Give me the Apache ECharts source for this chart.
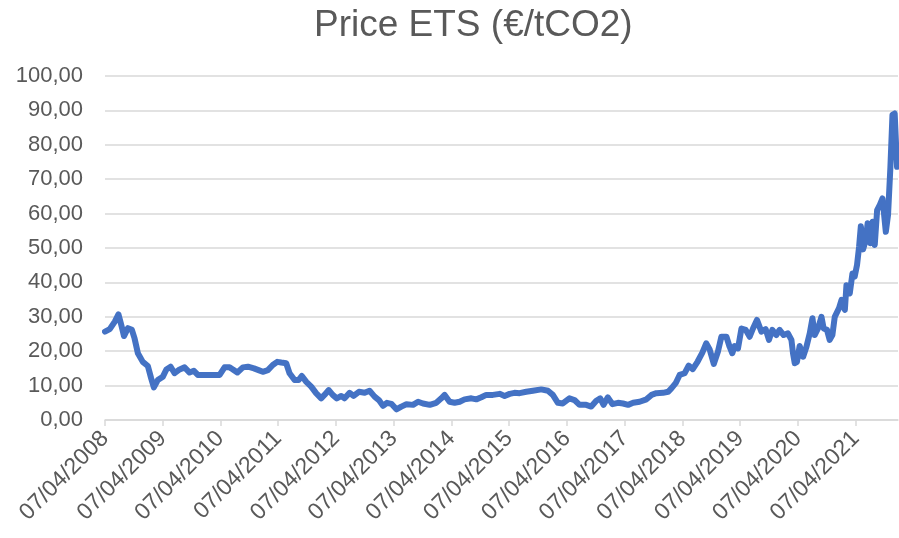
<!DOCTYPE html>
<html>
<head>
<meta charset="utf-8">
<script src="https://cdn.jsdelivr.net/npm/echarts@6/dist/echarts.min.js"></script>
<style>
  html, body { margin: 0; padding: 0; background: #fff; }
  #chart { width: 899px; height: 538px; }
</style>
</head>
<body>
<div id="chart"></div>
<script>
// EUA price
const dates = [
  '2008-04-07', '2008-05-07', '2008-06-08', '2008-07-01', '2008-07-19', '2008-08-05', '2008-08-30', '2008-09-24',
  '2008-10-11', '2008-11-01', '2008-12-02', '2009-01-03', '2009-01-24', '2009-02-10', '2009-03-07', '2009-04-08',
  '2009-04-30', '2009-05-27', '2009-06-21', '2009-07-23', '2009-08-23', '2009-09-24', '2009-10-21', '2009-11-15',
  '2010-01-18', '2010-04-02', '2010-05-03', '2010-06-04', '2010-06-25', '2010-07-23', '2010-08-27', '2010-09-28',
  '2010-11-05', '2010-12-04', '2010-12-31', '2011-02-01', '2011-03-04', '2011-04-01', '2011-04-27', '2011-05-28',
  '2011-06-18', '2011-07-20', '2011-08-14', '2011-09-04', '2011-10-02', '2011-11-02', '2011-12-03', '2012-01-04',
  '2012-01-25', '2012-02-21', '2012-03-17', '2012-04-12', '2012-05-10', '2012-05-31', '2012-07-02', '2012-07-27',
  '2012-08-30', '2012-10-05', '2012-11-05', '2012-12-07', '2013-01-03', '2013-01-29', '2013-02-23', '2013-03-23',
  '2013-04-24', '2013-05-25', '2013-06-26', '2013-08-07', '2013-09-08', '2013-10-09', '2013-11-21', '2014-01-01',
  '2014-02-02', '2014-02-23', '2014-03-26', '2014-04-27', '2014-05-29', '2014-06-29', '2014-08-11', '2014-09-11',
  '2014-10-13', '2014-11-13', '2014-12-25', '2015-02-06', '2015-03-09', '2015-04-10', '2015-05-11', '2015-06-12',
  '2015-07-24', '2015-09-04', '2015-10-27', '2015-12-08', '2016-01-08', '2016-02-09', '2016-03-11', '2016-04-22',
  '2016-05-24', '2016-06-25', '2016-08-06', '2016-09-07', '2016-10-09', '2016-11-03', '2016-11-24', '2016-12-21',
  '2017-01-19', '2017-02-23', '2017-03-27', '2017-04-28', '2017-05-30', '2017-07-10', '2017-08-22', '2017-09-23',
  '2017-10-24', '2017-12-05', '2018-01-06', '2018-01-27', '2018-02-23', '2018-03-20', '2018-04-21', '2018-05-16',
  '2018-06-11', '2018-07-12', '2018-08-10', '2018-09-04', '2018-09-26', '2018-10-22', '2018-11-18', '2018-12-09',
  '2019-01-10', '2019-01-30', '2019-02-16', '2019-03-03', '2019-03-24', '2019-04-15', '2019-05-12', '2019-06-06',
  '2019-06-27', '2019-07-22', '2019-08-19', '2019-09-15', '2019-10-06', '2019-10-27', '2019-11-21', '2019-12-12',
  '2020-01-07', '2020-02-03', '2020-02-25', '2020-03-06', '2020-03-17', '2020-03-31', '2020-04-17', '2020-05-09',
  '2020-05-30', '2020-06-20', '2020-07-07', '2020-07-21', '2020-08-11', '2020-09-02', '2020-09-16', '2020-10-07',
  '2020-10-24', '2020-11-10', '2020-11-25', '2020-12-22', '2021-01-07', '2021-01-28', '2021-02-07', '2021-02-28',
  '2021-03-17', '2021-03-31', '2021-04-15', '2021-04-28', '2021-05-09', '2021-05-23', '2021-06-09', '2021-06-21',
  '2021-07-08', '2021-07-23', '2021-08-05', '2021-08-20', '2021-09-06', '2021-09-23', '2021-10-14', '2021-10-28',
  '2021-11-12', '2021-11-25', '2021-12-09', '2021-12-24', '2021-12-30'
]
const prices = [
  25.7, 26.4, 28.6, 30.7, 27.6, 24.4, 26.7, 26.2,
  23.7, 19.4, 16.9, 15.7, 12.1, 9.5, 11.6, 12.6,
  14.7, 15.5, 13.6, 14.7, 15.3, 13.8, 14.3, 13.1,
  13.1, 13.1, 15.3, 15.3, 14.7, 13.8, 15.3, 15.5,
  15.0, 14.5, 14.0, 14.5, 16.0, 16.9, 16.7, 16.5,
  13.6, 11.6, 11.6, 12.8, 11.1, 9.7, 7.8, 6.3,
  7.3, 8.7, 7.3, 6.3, 7.0, 6.3, 7.9, 7.0,
  8.2, 7.9, 8.5, 6.8, 5.8, 4.1, 5.0, 4.7,
  3.1, 3.9, 4.6, 4.4, 5.3, 4.8, 4.4, 5.0,
  6.3, 7.3, 5.3, 5.0, 5.3, 6.0, 6.3, 6.0,
  6.6, 7.3, 7.3, 7.6, 7.0, 7.6, 7.9, 7.8,
  8.2, 8.5, 8.9, 8.5, 7.3, 5.0, 4.8, 6.3,
  5.8, 4.4, 4.4, 3.9, 5.6, 6.3, 4.4, 6.6,
  4.6, 5.0, 4.8, 4.4, 5.0, 5.3, 6.0, 7.3,
  7.8, 7.9, 8.2, 9.2, 10.7, 13.1, 13.6, 15.8,
  14.8, 17.0, 19.5, 22.3, 20.5, 16.3, 20.0, 24.2,
  24.2, 21.3, 19.4, 21.5, 20.8, 26.6, 26.2, 24.2,
  26.6, 29.1, 25.7, 26.4, 23.3, 26.2, 24.7, 26.2,
  24.7, 25.2, 23.3, 19.4, 16.5, 16.9, 21.5, 18.4,
  21.3, 25.2, 29.6, 24.7, 26.6, 30.0, 26.6, 26.2,
  23.3, 24.7, 30.0, 32.5, 34.9, 32.0, 39.2, 36.8,
  42.6, 41.7, 45.1, 50.4, 56.3, 49.6, 52.3, 57.2,
  51.4, 57.6, 50.9, 61.0, 62.5, 64.4, 54.7, 59.6,
  73.6, 88.7, 89.1, 73.6, 78.0
]
// x axis labels
const tickDates = [
  '2008-04-07', '2009-04-07', '2010-04-07', '2011-04-07', '2012-04-07', '2013-04-07', '2014-04-07',
  '2015-04-07', '2016-04-07', '2017-04-07', '2018-04-07', '2019-04-07', '2020-04-07', '2021-04-07'
]
const yTicks = [0, 10, 20, 30, 40, 50, 60, 70, 80, 90, 100]

function toTime(s) {
  const p = s.split('-')
  return Date.UTC(+p[0], +p[1] - 1, +p[2])
}
function fmtDate(v) {
  const d = new Date(v)
  const dd = String(d.getUTCDate()).padStart(2, '0')
  const mm = String(d.getUTCMonth() + 1).padStart(2, '0')
  return dd + '/' + mm + '/' + d.getUTCFullYear()
}

const seriesData = dates.map((d, i) => [toTime(d), prices[i]])
const tickValues = tickDates.map(toTime)

const myChart = echarts.init(document.getElementById('chart'))
myChart.setOption({
  animation: false,
  textStyle: { fontFamily: 'Liberation Sans, Arial, sans-serif' },
  title: {
    text: 'Price ETS (€/tCO2)',
    left: 309,
    top: 2,
    textStyle: { color: '#595959', fontSize: 37, fontWeight: 'normal' }
  },
  grid: { left: 105, right: 1, top: 76, bottom: 118 },
  xAxis: {
    type: 'value',
    min: toTime(dates[0]),
    max: toTime(dates[dates.length - 1]),
    splitLine: { show: false },
    axisLine: { lineStyle: { color: '#d9d9d9', width: 1.5 } },
    axisTick: {
      customValues: tickValues,
      length: 6,
      lineStyle: { color: '#d9d9d9', width: 1.5 }
    },
    axisLabel: {
      customValues: tickValues,
      rotate: 45,
      margin: 15,
      color: '#595959',
      fontSize: 23,
      formatter: fmtDate
    }
  },
  yAxis: {
    type: 'value',
    min: yTicks[0],
    max: yTicks[yTicks.length - 1],
    interval: 10,
    axisLine: { show: false },
    axisTick: { show: false },
    splitLine: { lineStyle: { color: '#d9d9d9', width: 1.5 } },
    axisLabel: {
      margin: 22,
      color: '#595959',
      fontSize: 22,
      formatter: v => v.toFixed(2).replace('.', ',')
    }
  },
  series: [
    {
      type: 'line',
      data: seriesData,
      showSymbol: false,
      lineStyle: { color: '#4472C4', width: 6, join: 'round', cap: 'round' }
    }
  ]
})
</script>
</body>
</html>
